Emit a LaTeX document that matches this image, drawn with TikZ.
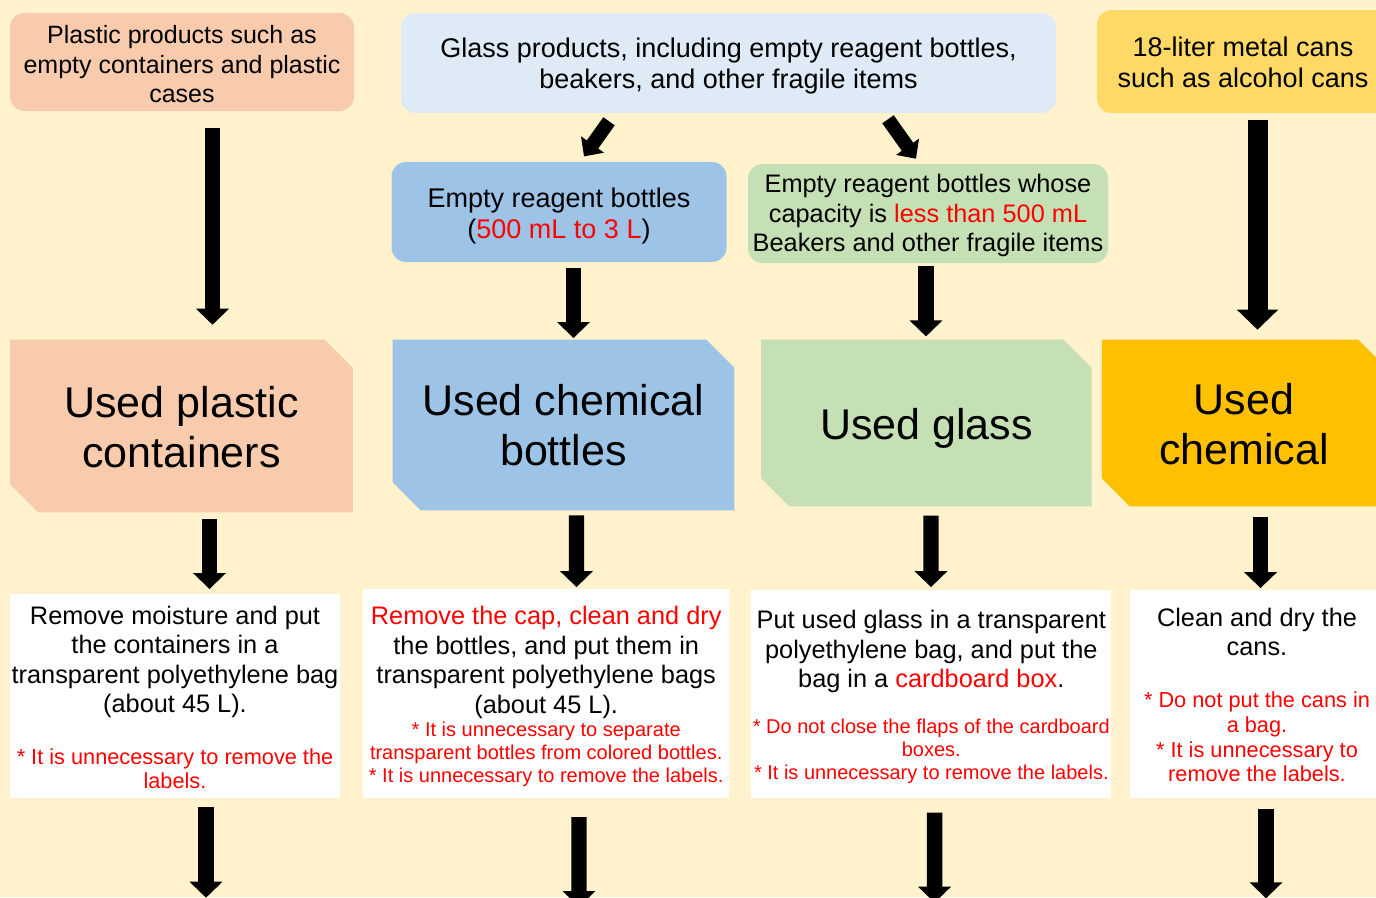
\documentclass[tikz,border=0pt]{standalone}
\usepackage{fontspec}
\setmainfont{Liberation Sans}
\usetikzlibrary{arrows.meta,calc}
\definecolor{bgc}{HTML}{FFF2CC}
\definecolor{peach}{HTML}{F8CBAD}
\definecolor{paleblue}{HTML}{DEEBF7}
\definecolor{midblue}{HTML}{9DC3E6}
\definecolor{palegreen}{HTML}{C5E0B4}
\definecolor{gold}{HTML}{FFD966}
\definecolor{amber}{HTML}{FFC000}
\definecolor{redtxt}{HTML}{FF0000}
\newcommand{\fsz}[2]{\fontsize{#1}{#2}\selectfont}
\newcommand{\snipfill}[2]{%
  \fill[#2] (#1.north west) -- ([xshift=-21pt]#1.north east) -- ([yshift=-21pt]#1.north east)
    -- (#1.south east) -- ([xshift=21pt]#1.south west) -- ([yshift=21pt]#1.south west) -- cycle;}
\begin{document}
\begin{tikzpicture}[x=0.75pt,y=-0.75pt,
  roundbox/.style={rounded corners=11pt, inner sep=0pt, draw=none},
  snipbox/.style={rectangle, inner sep=0pt, draw=none},
  whitebox/.style={rectangle, fill=white, inner sep=0pt, draw=none},
  lbl/.style={inner sep=0pt, align=flush center, text width=#1, yshift=-2.2pt},
  lbl/.default=520pt,
  barrow/.style={line width=11.6pt, -{Triangle[width=24pt,length=12pt]}},
  bigarrow/.style={line width=15pt, -{Triangle[width=30pt,length=15pt]}},
  diagarrow/.style={line width=10.5pt, -{Triangle[width=20.5pt,length=11pt]}}
]
\fill[bgc] (0,0) rectangle (1376,897);
\useasboundingbox (0,0) rectangle (1376,897);

% top row
\node[roundbox, fill=peach, minimum width=258pt, minimum height=73.5pt] (t1) at (182,62) {};
\node[lbl, font=\fsz{18.75pt}{22.1pt}, yshift=0.6pt] (t1l) at (t1.center) {Plastic products such as\\empty containers and plastic\\cases};
\node[roundbox, fill=paleblue, minimum width=491.25pt, minimum height=75pt] (t2) at (728.5,63) {};
\node[lbl, font=\fsz{20.25pt}{23.25pt}] (t2l) at (t2.center) {Glass products, including empty reagent bottles,\\beakers, and other fragile items};
\node[roundbox, fill=gold, minimum width=219pt, minimum height=77.25pt] (t3) at (1243,61.5) {};
\node[lbl, font=\fsz{20.25pt}{23.25pt}, yshift=1.4pt] (t3l) at (t3.center) {18-liter metal cans\\such as alcohol cans};

% middle row
\node[roundbox, fill=midblue, minimum width=251.25pt, minimum height=75pt] (m1) at (559,212) {};
\node[lbl, font=\fsz{20.25pt}{23.25pt}, yshift=-0.8pt] (m1l) at (m1.center) {Empty reagent bottles\\(\textcolor{redtxt}{500 mL to 3 L})};
\node[roundbox, fill=palegreen, minimum width=270pt, minimum height=74.25pt] (m2) at (928,213.5) {};
\node[lbl, font=\fsz{19pt}{22.1pt}, yshift=0.4pt] (m2l) at (m2.center) {Empty reagent bottles whose\\capacity is \textcolor{redtxt}{less than 500 mL}\\Beakers and other fragile items};

% category boxes
\node[snipbox, minimum width=256.5pt, minimum height=129pt] (b1) at (181.5,426) {};
\snipfill{b1}{peach}
\node[lbl, font=\fsz{32.25pt}{37.5pt}, yshift=1.6pt] (b1l) at (b1.center) {Used plastic\\containers};
\node[snipbox, minimum width=255.75pt, minimum height=127.5pt] (b2) at (563.5,425) {};
\snipfill{b2}{midblue}
\node[lbl, font=\fsz{32.25pt}{37.5pt}, yshift=2pt] (b2l) at (b2.center) {Used chemical\\bottles};
\node[snipbox, minimum width=247.5pt, minimum height=124.5pt] (b3) at (926.4,423) {};
\snipfill{b3}{palegreen}
\node[lbl, font=\fsz{32.25pt}{37.5pt}, yshift=-1.6pt] (b3l) at (b3.center) {Used glass};
\node[snipbox, minimum width=213pt, minimum height=124.5pt] (b4) at (1244,423) {};
\snipfill{b4}{amber}
\node[lbl, font=\fsz{32.25pt}{37.5pt}, yshift=1.6pt] (b4l) at (b4.center) {Used\\chemical};

% white instruction boxes
\node[whitebox, minimum width=247pt, minimum height=153pt] (w1) at (175,696.3) {};
\node[lbl, font=\fsz{19pt}{22.1pt}, yshift=1.3pt] (w1l) at (w1.center) {Remove moisture and put\\the containers in a\\transparent polyethylene bag\\(about 45 L).\\[20pt]
\fsz{16.3pt}{18.4pt}\color{redtxt}* It is unnecessary to remove the\\labels.\par};
\node[whitebox, minimum width=274.2pt, minimum height=156.5pt] (w2) at (546.2,693.4) {};
\node[lbl, font=\fsz{19pt}{22.1pt}] (w2l) at (w2.center) {\textcolor{redtxt}{Remove the cap, clean and dry}\\the bottles, and put them in\\transparent polyethylene bags\\(about 45 L).\\
\fsz{15pt}{17.25pt}\color{redtxt}* It is unnecessary to separate\\transparent bottles from colored bottles.\\\relax* It is unnecessary to remove the labels.\par};
\node[whitebox, minimum width=269.9pt, minimum height=156.2pt] (w3) at (931.3,694.2) {};
\node[lbl, font=\fsz{19pt}{22.1pt}] (w3l) at (w3.center) {Put used glass in a transparent\\polyethylene bag, and put the\\bag in a \textcolor{redtxt}{cardboard box}.\\[17.25pt]
\fsz{15pt}{17.25pt}\color{redtxt}* Do not close the flaps of the cardboard\\boxes.\\\relax* It is unnecessary to remove the labels.\par};
\node[whitebox, minimum width=190.3pt, minimum height=156.2pt] (w4) at (1257,694.2) {};
\node[lbl, font=\fsz{19pt}{22.1pt}, yshift=1.6pt] (w4l) at (w4.center) {Clean and dry the\\cans.\\[20.5pt]
\fsz{16.3pt}{18.5pt}\color{redtxt}* Do not put the cans in\\a bag.\\\relax* It is unnecessary to\\remove the labels.\par};

% free ends of the last arrows
\coordinate (e1) at (206,897.7);
\coordinate (e2) at (579,907);
\coordinate (e3) at (934.6,902.7);
\coordinate (e4) at (1266,898.3);

% arrows
\draw[barrow] ($(t1.south)+(30.5,17)$) -- ($(b1.north)+(31,-15)$);
\draw[diagarrow] ($(t2.south)+(-119.5,8)$) -- ($(m1.north)+(25,-5.3)$);
\draw[diagarrow] ($(t2.south)+(159.5,6)$) -- ($(m2.north)+(-12,-5)$);
\draw[bigarrow] ($(t3.south)+(14.5,7)$) -- ($(b4.north)+(13.5,-10)$);
\draw[barrow] ($(m1.south)+(14.5,5.4)$) -- ($(b2.north)+(10,-1.7)$);
\draw[barrow] ($(m2.south)+(-2,3)$) -- ($(b3.north)+(-0.4,-3.3)$);
\draw[barrow] ($(b1.south)+(28,6.6)$) -- ($(w1.north)+(34.5,-5)$);
\draw[barrow] ($(b2.south)+(13,5)$) -- ($(w2.north)+(30.3,-1.7)$);
\draw[barrow] ($(b3.south)+(4.6,9.3)$) -- ($(w3.north)+(-0.3,-2.7)$);
\draw[barrow] ($(b4.south)+(16.5,11)$) -- ($(w4.north)+(3.5,-1.7)$);
\draw[barrow] ($(w1.south)+(31,8.4)$) -- (e1);
\draw[barrow] ($(w2.south)+(32.8,19)$) -- (e2);
\draw[barrow] ($(w3.south)+(3.3,14)$) -- (e3);
\draw[barrow] ($(w4.south)+(9,10)$) -- (e4);
\end{tikzpicture}
\end{document}
